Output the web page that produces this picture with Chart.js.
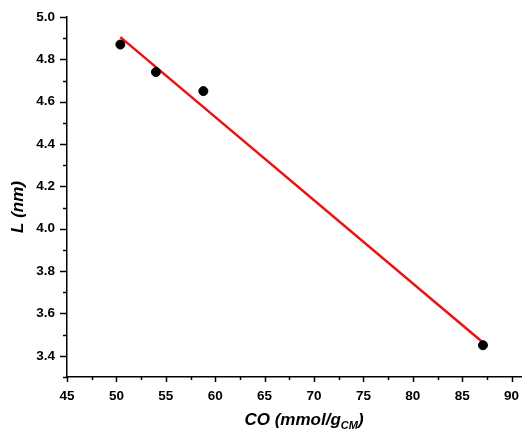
<!DOCTYPE html>
<html lang="en">
<head>
  <meta charset="UTF-8">
  <title>L vs CO</title>
  <script src="https://cdn.jsdelivr.net/npm/chart.js"></script>
  <style>
    html, body { margin: 0; padding: 0; background: #ffffff; }
    #wrap { width: 527px; height: 432px; position: relative; }
  </style>
</head>
<body>
  <div id="wrap"><canvas id="chart"></canvas></div>
  <script>
    // measured points
    const coValues = [50.4, 54.0, 58.8, 87.1];
    const lValues = [4.87, 4.74, 4.65, 3.45];
    // linear fit, end points
    const fitX = [50.4, 87.1];
    const fitY = [4.905, 3.463];
    // axis ticks
    const xMajor = [45, 50, 55, 60, 65, 70, 75, 80, 85, 90];
    const yMajor = [3.4, 3.6, 3.8, 4.0, 4.2, 4.4, 4.6, 4.8, 5.0];

    const xTicks = [];
    xMajor.forEach((v, i) => { xTicks.push(v); if (i < xMajor.length - 1) xTicks.push(v + 2.5); });
    const yTicks = [3.3];
    yMajor.forEach((v, i) => { yTicks.push(v); if (i < yMajor.length - 1) yTicks.push(+(v + 0.1).toFixed(1)); });

    const FONT = '"Liberation Sans", Arial, sans-serif';

    const isMajorX = v => xMajor.includes(v);
    const isMajorY = v => yMajor.some(m => Math.abs(m - v) < 1e-6);

    const extras = {
      id: 'extras',
      afterDraw(chart) {
        const ctx = chart.ctx;
        const xs = chart.scales.x, ys = chart.scales.y;
        const area = chart.chartArea;
        ctx.save();
        ctx.strokeStyle = '#000';
        ctx.lineWidth = 1.5;
        // tick marks
        xTicks.forEach(v => {
          const px = Math.round(xs.getPixelForValue(v)) + 0.5;
          const len = isMajorX(v) ? 5 : 3;
          ctx.beginPath();
          ctx.moveTo(px, area.bottom);
          ctx.lineTo(px, area.bottom + len);
          ctx.stroke();
        });
        yTicks.forEach(v => {
          const py = Math.round(ys.getPixelForValue(v)) + 0.5;
          const len = isMajorY(v) ? 7 : 4;
          ctx.beginPath();
          ctx.moveTo(area.left, py);
          ctx.lineTo(area.left - len, py);
          ctx.stroke();
        });
        // y title
        ctx.fillStyle = '#000';
        ctx.save();
        ctx.translate(18, 207);
        ctx.rotate(-Math.PI / 2);
        ctx.font = 'italic bold 17px ' + FONT;
        ctx.textAlign = 'center';
        ctx.textBaseline = 'middle';
        ctx.fillText('L (nm)', 0, 0);
        ctx.restore();
        // x title with subscript
        const mainFont = 'italic bold 17px ' + FONT;
        const subFont = 'italic bold 11px ' + FONT;
        ctx.font = mainFont;
        const a = 'CO (mmol/g', c = ')';
        const wa = ctx.measureText(a).width, wc = ctx.measureText(c).width;
        ctx.font = subFont;
        const wb = ctx.measureText('CM').width;
        let x0 = 304 - (wa + wb + wc) / 2;
        const base = 425;
        ctx.textAlign = 'left';
        ctx.textBaseline = 'alphabetic';
        ctx.font = mainFont;
        ctx.fillText(a, x0, base);
        ctx.font = subFont;
        ctx.fillText('CM', x0 + wa, base + 4);
        ctx.font = mainFont;
        ctx.fillText(c, x0 + wa + wb, base);
        ctx.restore();
      }
    };

    new Chart(document.getElementById('chart'), {
      type: 'scatter',
      data: {
        datasets: [
          {
            label: 'fit',
            data: fitX.map((x, i) => ({ x, y: fitY[i] })),
            showLine: true,
            borderColor: '#ee1111',
            borderWidth: 2.5,
            pointRadius: 0,
            order: 2
          },
          {
            label: 'L',
            data: coValues.map((x, i) => ({ x, y: lValues[i] })),
            backgroundColor: '#000',
            borderColor: '#000',
            pointRadius: 4.5,
            order: 1
          }
        ]
      },
      options: {
        responsive: true,
        maintainAspectRatio: false,
        animation: false,
        layout: { padding: { top: 17, right: 5, left: 0, bottom: 0 } },
        plugins: { legend: { display: false }, tooltip: { enabled: false } },
        scales: {
          x: {
            type: 'linear',
            min: 45,
            max: 91,
            afterBuildTicks: s => { s.ticks = xTicks.map(v => ({ value: v })); },
            afterFit: s => { s.height = 55; s.paddingLeft = 0; s.paddingRight = 0; },
            grid: { display: true, drawOnChartArea: false, drawTicks: false },
            border: { display: true, color: '#000', width: 1.5 },
            ticks: {
              padding: 11,
              color: '#000',
              font: { family: FONT, size: 13.5, weight: 'bold' },
              autoSkip: false,
              maxRotation: 0,
              callback: v => isMajorX(v) ? String(v) : ''
            }
          },
          y: {
            type: 'linear',
            min: 3.3,
            max: 5.0,
            afterBuildTicks: s => { s.ticks = yTicks.map(v => ({ value: v })); },
            afterFit: s => { s.width = 67; s.paddingTop = 0; s.paddingBottom = 0; },
            grid: { display: true, drawOnChartArea: false, drawTicks: false },
            border: { display: true, color: '#000', width: 1.5 },
            ticks: {
              padding: 12,
              color: '#000',
              font: { family: FONT, size: 13.5, weight: 'bold' },
              autoSkip: false,
              callback: v => isMajorY(v) ? v.toFixed(1) : ''
            }
          }
        }
      },
      plugins: [extras]
    });
  </script>
</body>
</html>
